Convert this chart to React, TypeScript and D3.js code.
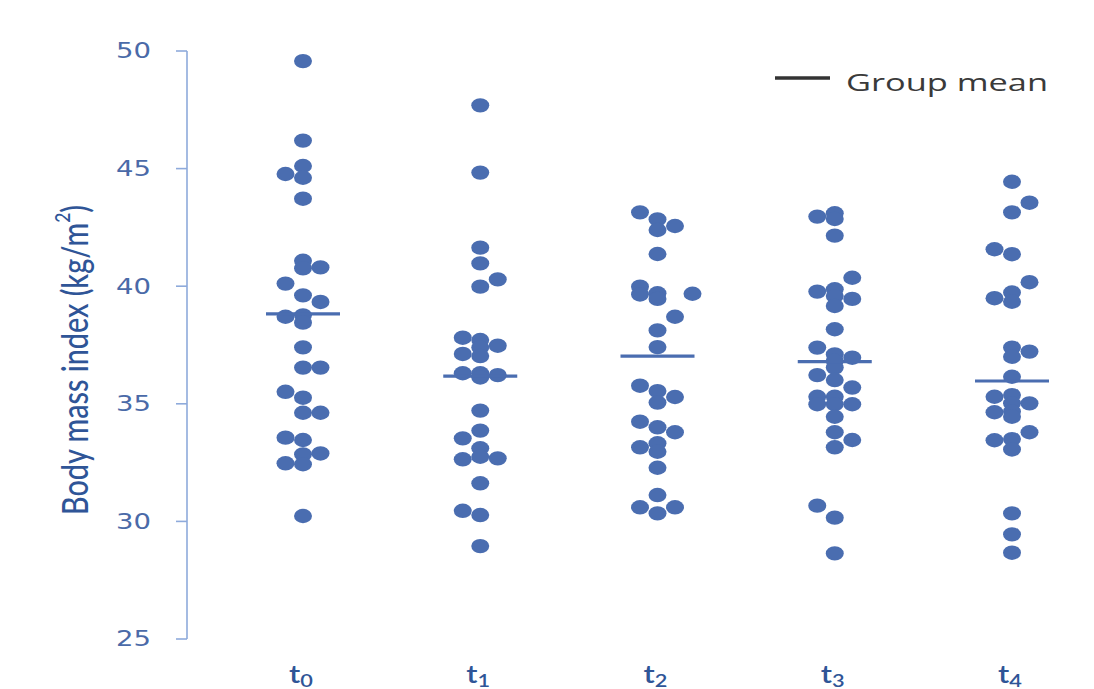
import React from "react";
import * as d3 from "d3";

// ---- data ----
const categories = ["0", "1", "2", "3", "4"]; // subscripts of t
const yTicks = [25, 30, 35, 40, 45, 50];
const yTitle = "Body mass index (kg/m";
const legendLabel = "Group mean";

// [value, slot] — slot = horizontal column of the dot within its group
const t0: [number, number][] = [
  [49.57, 0], [46.19, 0], [45.11, 0], [44.77, -1], [44.61, 0], [43.72, 0],
  [41.08, 0], [40.76, 0], [40.8, 1], [40.11, -1], [39.61, 0], [39.33, 1],
  [38.7, -1], [38.76, 0], [38.45, 0], [37.4, 0], [36.54, 0], [36.54, 1],
  [35.51, -1], [35.26, 0], [34.62, 0], [34.62, 1], [33.56, -1], [33.46, 0],
  [32.85, 0], [32.89, 1], [32.47, -1], [32.43, 0], [30.23, 0],
];
const t1: [number, number][] = [
  [47.69, 0], [44.83, 0], [41.64, 0], [40.97, 0], [40.29, 1], [39.98, 0],
  [37.81, -1], [37.71, 0], [37.47, 1], [37.12, -1], [37.39, 0], [37.03, 0],
  [36.3, -1], [36.3, 0], [36.12, 0], [36.22, 1], [34.71, 0], [33.86, 0],
  [33.53, -1], [33.11, 0], [32.64, -1], [32.75, 0], [32.68, 1], [31.62, 0],
  [30.45, -1], [30.27, 0], [28.95, 0],
];
const t2: [number, number][] = [
  [43.14, -1], [42.84, 0], [42.56, 1], [42.39, 0], [41.37, 0], [39.98, -1],
  [39.65, -1], [39.7, 0], [39.46, 0], [39.68, 2], [38.7, 1], [38.12, 0],
  [37.41, 0], [35.77, -1], [35.54, 0], [35.29, 1], [35.05, 0], [34.24, -1],
  [34.0, 0], [33.79, 1], [33.15, -1], [33.32, 0], [32.96, 0], [32.28, 0],
  [31.12, 0], [30.6, -1], [30.6, 1], [30.34, 0],
];
const t3: [number, number][] = [
  [42.96, -1], [43.1, 0], [42.86, 0], [42.15, 0], [40.36, 1], [39.77, -1],
  [39.87, 0], [39.58, 0], [39.46, 1], [39.16, 0], [38.17, 0], [37.39, -1],
  [37.1, 0], [36.96, 1], [36.83, 0], [36.54, 0], [36.22, -1], [36.01, 0],
  [35.69, 1], [35.3, -1], [34.98, -1], [35.3, 0], [34.98, 0], [34.98, 1],
  [34.45, 0], [33.79, 0], [33.46, 1], [33.15, 0], [30.67, -1], [30.16, 0],
  [28.64, 0],
];
const t4: [number, number][] = [
  [44.44, 0], [43.55, 1], [43.14, 0], [41.57, -1], [41.36, 0], [40.17, 1],
  [39.49, -1], [39.73, 0], [39.34, 0], [37.39, 0], [37.22, 1], [37.0, 0],
  [36.15, 0], [35.3, -1], [35.37, 0], [35.02, 1], [35.02, 0], [34.64, -1],
  [34.67, 0], [34.45, 0], [33.79, 1], [33.45, -1], [33.5, 0], [33.06, 0],
  [30.34, 0], [29.45, 0], [28.67, 0],
];
const groups = [t0, t1, t2, t3, t4];
const means = [38.82, 36.18, 37.03, 36.79, 35.97];

// ---- style ----
const DOT = "#4a6db0";
const AXIS = "#8eaadb";
const TICK_TXT = "#4a6aa8";
const TITLE = "#2f5597";
const SX = 1.28; // horizontal stretch of the original picture

export default function App() {
  const width = 1094;
  const height = 689;
  const y = d3.scaleLinear().domain([25, 50]).range([639, 51]);
  const x = d3.scalePoint<string>().domain(categories).range([303, 1012]);
  const slotW = 17.5;
  const axisX = 187;

  return (
    <svg
      width={width}
      height={height}
      style={{ position: "absolute", left: 0, top: 0, background: "#fff" }}
    >
      {/* y axis */}
      <line x1={axisX} x2={axisX} y1={y(50)} y2={y(25)} stroke={AXIS} strokeWidth={1.6} />
      {yTicks.map((t) => (
        <g key={t}>
          <line x1={axisX - 11} x2={axisX} y1={y(t)} y2={y(t)} stroke={AXIS} strokeWidth={1.6} />
          <text
            transform={`translate(151,${y(t)}) scale(${SX},1)`}
            textAnchor="end"
            dominantBaseline="central"
            fontFamily="DejaVu Sans, Verdana, sans-serif"
            fontSize={21.5}
            fill={TICK_TXT}
          >
            {t}
          </text>
        </g>
      ))}
      {/* y title */}
      <text
        transform={`translate(74,360) scale(${SX},1) rotate(-90)`}
        textAnchor="middle"
        dominantBaseline="central"
        fontFamily="Lato, sans-serif"
        fontSize={28}
        fontWeight={500}
        fill={TITLE}
        textLength={310}
        lengthAdjust="spacingAndGlyphs"
      >
        {yTitle}
        <tspan fontSize={17} dy={-10}>2</tspan>
        <tspan dy={10}>)</tspan>
      </text>

      {/* x labels */}
      {categories.map((c) => (
        <text
          key={c}
          transform={`translate(${x(c)! - 2},683) scale(${SX},1)`}
          textAnchor="middle"
          fontFamily="Lato, sans-serif"
          fontSize={24}
          fontWeight={600}
          fill={TITLE}
        >
          t<tspan fontSize={17} dy={4}>{c}</tspan>
        </text>
      ))}

      {/* dots */}
      {groups.map((g, gi) =>
        g.map(([v, s], i) => (
          <ellipse
            key={`${gi}-${i}`}
            cx={x(categories[gi])! + s * slotW}
            cy={y(v)}
            rx={9}
            ry={7.2}
            fill={DOT}
          />
        ))
      )}

      {/* means */}
      {means.map((m, i) => (
        <line
          key={i}
          x1={x(categories[i])! - 37}
          x2={x(categories[i])! + 37}
          y1={y(m)}
          y2={y(m)}
          stroke={DOT}
          strokeWidth={3.2}
        />
      ))}

      {/* legend */}
      <line x1={775} x2={830} y1={78} y2={78} stroke="#333" strokeWidth={3.6} />
      <text
        x={846}
        y={91}
        fontFamily="Open Sans, sans-serif"
        fontSize={24}
        fontWeight={500}
        fill="#3a3a3a"
        textLength={202}
        lengthAdjust="spacingAndGlyphs"
      >
        {legendLabel}
      </text>
    </svg>
  );
}
